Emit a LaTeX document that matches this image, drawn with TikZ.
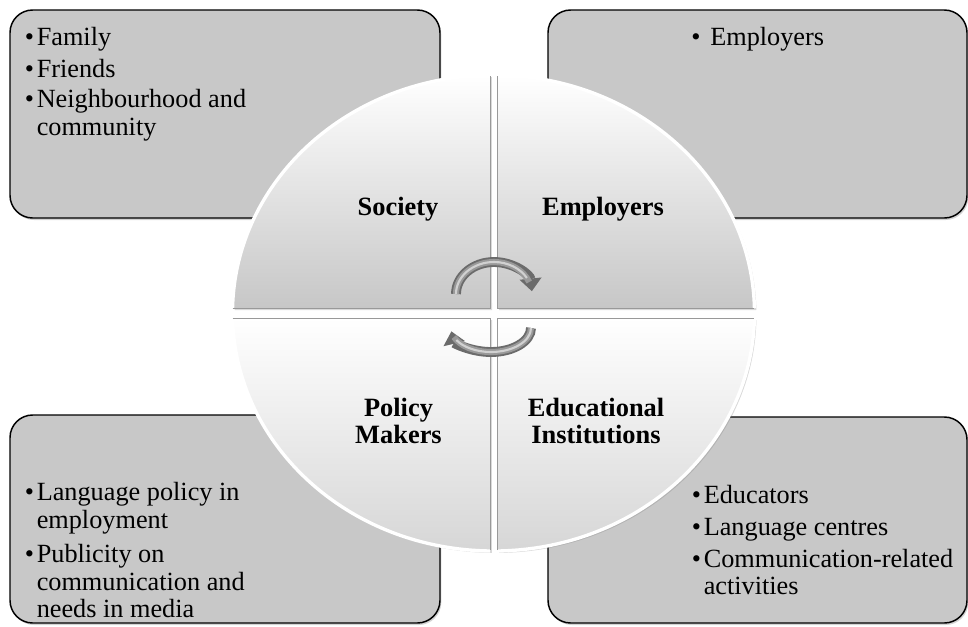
\documentclass[tikz,border=0pt]{standalone}
\usepackage{fontspec}
\setmainfont{Liberation Serif}
\usetikzlibrary{shadows,arrows.meta}
\definecolor{boxgray}{RGB}{200,200,200}
\begin{document}
\begin{tikzpicture}[x=0.75pt,y=-0.75pt,
  infobox/.style={draw=black, line width=1.1pt, fill=boxgray, rounded corners=17pt,
    drop shadow={opacity=0.35, shadow xshift=1pt, shadow yshift=-1.5pt}},
  upq/.style={top color=white, bottom color=black!22,
    drop shadow={opacity=0.3, shadow xshift=1.5pt, shadow yshift=-1.5pt}},
  loq/.style={top color=white, bottom color=black!16,
    drop shadow={opacity=0.3, shadow xshift=1.5pt, shadow yshift=-1.5pt}},
  quadedge/.style={draw=black!40, line width=0.7pt},
  quadrim/.style={draw=white, line width=2.5pt},
  txt/.style={anchor=base west, inner sep=0pt, font=\fontsize{19.7}{24}\selectfont},
  bul/.style={anchor=base west, inner sep=0pt, font=\fontsize{19.7}{24}\selectfont},
  lab/.style={anchor=base, inner sep=0pt, font=\fontsize{19.8}{24}\selectfont\bfseries},
  tubeout/.style={draw=black!58, line width=7.4pt, -{Triangle[length=9.5pt,width=16pt]}},
  tubemid/.style={draw=black!40, line width=4.6pt},
  tubein/.style={draw=black!18, line width=1.6pt}
]
\useasboundingbox (0,0) rectangle (968,626);

% ---- outer boxes
\path[infobox] (10,10) rectangle (440,218);
\path[infobox] (548,10) rectangle (967,218);
\path[infobox] (10,415) rectangle (440,623);
\path[infobox] (548,417) rectangle (967,623);

% ---- quadrants
\path[upq] (490,308) -- (232.56,308.02) arc[start angle=181.2, end angle=269.2, x radius=261, y radius=238] -- cycle;
\draw[quadrim] (232.56,308.02) arc[start angle=181.2, end angle=269.2, x radius=261, y radius=238];
\draw[quadedge] (232.56,308) -- (490,308) -- (490,76);

\path[upq] (497,308) -- (497,75.02) arc[start angle=270.77, end angle=358.8, x radius=261, y radius=238] -- cycle;
\draw[quadrim] (497,75.02) arc[start angle=270.77, end angle=358.8, x radius=261, y radius=238];
\draw[quadedge] (497,76) -- (497,308) -- (754.4,308);

\path[loq] (490,318) -- (232.56,317.98) arc[start angle=178.8, end angle=90.77, x radius=261, y radius=238] -- cycle;
\draw[quadrim] (232.56,317.98) arc[start angle=178.8, end angle=90.77, x radius=261, y radius=238];
\draw[quadedge] (232.56,318) -- (490,318) -- (490,550);

\path[loq] (497,318) -- (497,550.98) arc[start angle=89.23, end angle=1.2, x radius=261, y radius=238] -- cycle;
\draw[quadrim] (497,550.98) arc[start angle=89.23, end angle=1.2, x radius=261, y radius=238];
\draw[quadedge] (497,550) -- (497,318) -- (754.4,318);

% ---- quadrant labels
\node[lab] (soc) at (398,215) {Society};
\node[lab] (emp) at (603,215) {Employers};
\node[lab] (pol1) at (398.5,416) {Policy};
\node[lab] (pol2) at (398.5,443) {Makers};
\node[lab] (edu1) at (596,416) {Educational};
\node[lab] (edu2) at (596,443) {Institutions};

% ---- cycle arrows
\draw[tubeout] (456,294) arc[start angle=180, end angle=355, x radius=38, y radius=32];
\draw[tubemid] (456,294) arc[start angle=180, end angle=338, x radius=38, y radius=32];
\draw[tubein] (456,294) arc[start angle=180, end angle=330, x radius=38, y radius=32];
\draw[tubeout] (531,328) arc[start angle=0, end angle=172, x radius=40, y radius=24];
\draw[tubemid] (531,328) arc[start angle=0, end angle=158, x radius=40, y radius=24];
\draw[tubein] (531,328) arc[start angle=0, end angle=150, x radius=40, y radius=24];

% ---- top-left box text
\node[bul] (tlb1) at (24.5,45) {\textbullet};
\node[txt] (tlt1) at (36.5,45) {Family};
\node[bul] (tlb2) at (24.5,77) {\textbullet};
\node[txt] (tlt2) at (36.5,77) {Friends};
\node[bul] (tlb3) at (24.5,107.5) {\textbullet};
\node[txt] (tlt3) at (36.5,107.5) {Neighbourhood and};
\node[txt] (tlt4) at (36.5,135.5) {community};

% ---- top-right box text
\node[bul] (trb1) at (691,45) {\textbullet};
\node[txt] (trt1) at (710,45) {Employers};

% ---- bottom-left box text
\node[bul] (blb1) at (24.5,500) {\textbullet};
\node[txt] (blt1) at (36.5,500) {Language policy in};
\node[txt] (blt2) at (36.5,528) {employment};
\node[bul] (blb2) at (24.5,562) {\textbullet};
\node[txt] (blt3) at (36.5,562) {Publicity on};
\node[txt] (blt4) at (36.5,590) {communication and};
\node[txt] (blt5) at (36.5,617) {needs in media};

% ---- bottom-right box text
\node[bul] (brb1) at (691.5,503) {\textbullet};
\node[txt] (brt1) at (703.5,503) {Educators};
\node[bul] (brb2) at (691.5,535) {\textbullet};
\node[txt] (brt2) at (703.5,535) {Language centres};
\node[bul] (brb3) at (691.5,567) {\textbullet};
\node[txt] (brt3) at (703.5,567) {Communication-related};
\node[txt] (brt4) at (703.5,594) {activities};
\end{tikzpicture}
\end{document}
